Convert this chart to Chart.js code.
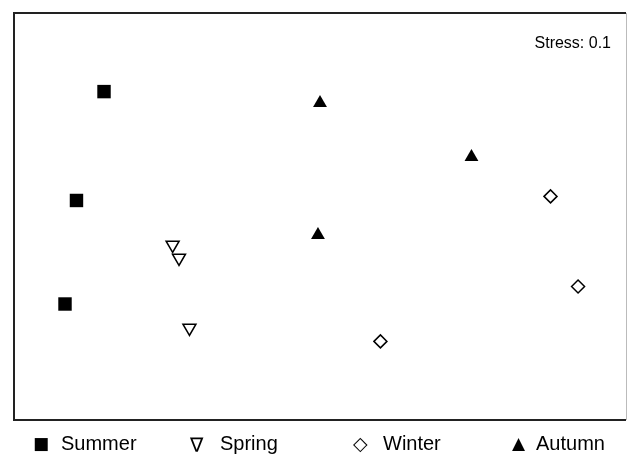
<!DOCTYPE html>
<html>
<head>
<meta charset="utf-8">
<script src="https://cdn.jsdelivr.net/npm/chart.js@4/dist/chart.umd.min.js"></script>
<style>
  html, body { margin: 0; background: #fff; overflow: hidden; }
  #wrap { position: relative; width: 627px; height: 455px; overflow: hidden; }
  #c { display: block; }
  .lg { position: absolute; top: 432px; font-family: "Liberation Sans", Arial, sans-serif; font-size: 20px; color: #000; line-height: 22px; white-space: nowrap; }
  .sym { font-family: "DejaVu Sans", sans-serif; }
</style>
</head>
<body>
<div id="wrap">
  <canvas id="c" width="627" height="455" style="width:627px;height:455px;"></canvas>
  <span class="lg sym" style="left:33px;font-size:17px;">■</span><span class="lg" style="left:61px;">Summer</span>
  <span class="lg sym" style="left:190px;font-size:20px;top:434px;">∇</span><span class="lg" style="left:220px;">Spring</span>
  <span class="lg sym" style="left:353px;font-size:19px;">◇</span><span class="lg" style="left:383px;">Winter</span>
  <span class="lg sym" style="left:512px;font-size:17px;">▲</span><span class="lg" style="left:536px;">Autumn</span>
</div>
<script>
// NMDS ordination scores
const summerX = [-0.847, -0.955, -1.0];
const summerY = [0.491, 0.063, -0.344];
const springX = [-0.578, -0.553, -0.512];
const springY = [-0.112, -0.163, -0.438];
const winterX = [0.904, 1.012, 0.237];
const winterY = [0.079, -0.275, -0.491];
const autumnX = [0.0, -0.008, 0.594];
const autumnY = [0.446, -0.073, 0.234];
const stressLabel = 'Stress: 0.1';

const pts = (xs, ys) => xs.map((x, i) => ({ x: x, y: ys[i] }));

// frame round the plot + stress text
const framePlugin = {
  id: 'frame',
  afterDraw(chart) {
    const { ctx, chartArea: a } = chart;
    ctx.save();
    ctx.strokeStyle = '#222';
    ctx.lineWidth = 2;
    ctx.beginPath();
    ctx.moveTo(a.right, a.top);
    ctx.lineTo(a.left, a.top);
    ctx.lineTo(a.left, a.bottom);
    ctx.lineTo(a.right, a.bottom);
    ctx.stroke();
    ctx.strokeStyle = '#bbb';
    ctx.lineWidth = 1;
    ctx.beginPath();
    ctx.moveTo(a.right + 0.5, a.top);
    ctx.lineTo(a.right + 0.5, a.bottom);
    ctx.stroke();
    ctx.fillStyle = '#000';
    ctx.font = '16px "Liberation Sans", Arial, sans-serif';
    ctx.textAlign = 'right';
    ctx.textBaseline = 'alphabetic';
    ctx.fillText(stressLabel, a.right - 15, 48);
    ctx.restore();
  }
};

new Chart(document.getElementById('c'), {
  type: 'scatter',
  data: {
    datasets: [
      { label: 'Summer', data: pts(summerX, summerY), pointStyle: 'rect', pointRadius: 9.5,
        backgroundColor: '#000', borderColor: '#000', borderWidth: 0 },
      { label: 'Spring', data: pts(springX, springY), pointStyle: 'triangle', rotation: 180, pointRadius: 7.5,
        backgroundColor: 'rgba(255,255,255,0)', borderColor: '#000', borderWidth: 1.5 },
      { label: 'Winter', data: pts(winterX, winterY), pointStyle: 'rectRot', pointRadius: 6.5,
        backgroundColor: 'rgba(255,255,255,0)', borderColor: '#000', borderWidth: 1.5 },
      { label: 'Autumn', data: pts(autumnX, autumnY), pointStyle: 'triangle', pointRadius: 8,
        backgroundColor: '#000', borderColor: '#000', borderWidth: 0 }
    ]
  },
  options: {
    responsive: false,
    animation: false,
    layout: { autoPadding: false, padding: { left: 14, top: 13, right: 1, bottom: 35 } },
    scales: {
      x: { display: false, min: -1.2, max: 1.2 },
      y: { display: false, min: -0.8, max: 0.8 }
    },
    plugins: {
      legend: { display: false },
      tooltip: { enabled: false }
    }
  },
  plugins: [framePlugin]
});
</script>
</body>
</html>
